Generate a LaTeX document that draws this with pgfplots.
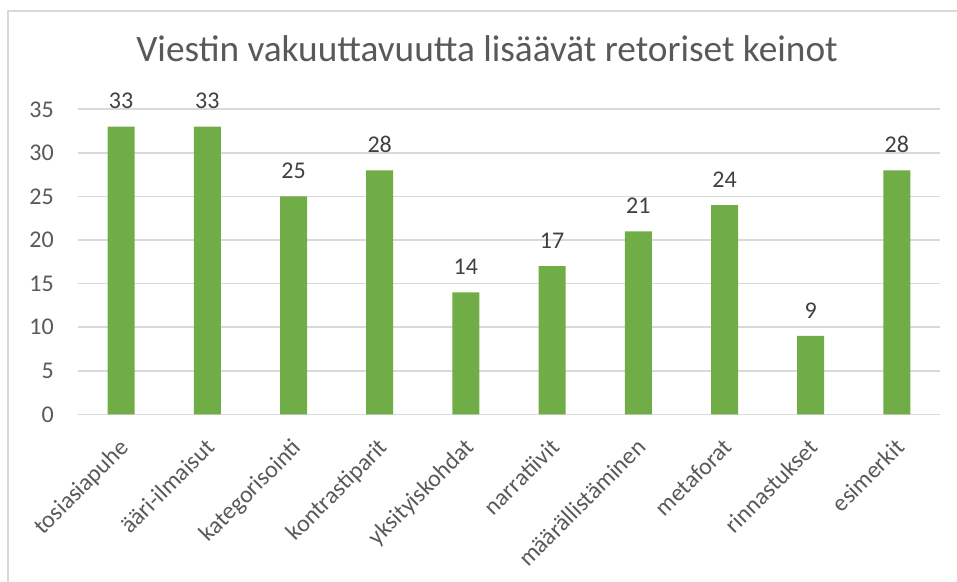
\documentclass[border=0pt]{standalone}
\usepackage{pgfplots}
\pgfplotsset{compat=1.18}
\usepackage{fontspec}
\setmainfont{Carlito}
\definecolor{bargreen}{HTML}{70AD47}
\definecolor{gridgray}{HTML}{D9D9D9}
\definecolor{ticktext}{HTML}{595959}
\definecolor{labeltext}{HTML}{404040}
\begin{document}
\begin{tikzpicture}
\useasboundingbox (-78bp,-167.7bp) rectangle (879bp,414.3bp);
\draw[gridgray, line width=2bp] (-69.7bp,-167.7bp) -- (-69.7bp,403.3bp) -- (879bp,403.3bp);
\begin{axis}[
  at={(0,0)}, anchor=south west,
  scale only axis, width=862bp, height=305bp,
  xmin=-0.5, xmax=9.5, ymin=0, ymax=35,
  enlargelimits=false, clip=false,
  axis line style={draw=none},
  major tick length=0pt,
  ytick={0,5,...,35},
  ymajorgrids, major grid style={draw=gridgray, line width=1.6bp},
  xtick=data,
  xticklabels={tosiasiapuhe,ääri-ilmaisut,kategorisointi,kontrastiparit,yksityiskohdat,narratiivit,määrällistäminen,metaforat,rinnastukset,esimerkit},
  /pgf/number format/assume math mode=true,
  yticklabel style={font=\fontsize{24bp}{28bp}\selectfont, text=ticktext, inner sep=0pt, anchor=east, xshift=-24bp},
  xticklabel style={font=\fontsize{24bp}{28bp}\selectfont, text=ticktext, inner sep=0pt, anchor=north east, rotate=45, xshift=-18bp, yshift=-14bp},
  title={Viestin vakuuttavuutta lisäävät retoriset keinot},
  title style={at={(axis description cs:0.4745,1)}, anchor=base, yshift=42.3bp, font=\fontsize{37.3bp}{41bp}\selectfont, text=ticktext, inner sep=0pt},
  ybar, bar width=27bp,
  nodes near coords,
  nodes near coords style={font=\fontsize{24bp}{28bp}\selectfont, text=labeltext, inner sep=0pt, anchor=south, yshift=17.5bp},
]
\addplot[fill=bargreen, draw=none] coordinates {
(0,33) (1,33) (2,25) (3,28) (4,14) (5,17) (6,21) (7,24) (8,9) (9,28)
};
\end{axis}
\end{tikzpicture}
\end{document}
